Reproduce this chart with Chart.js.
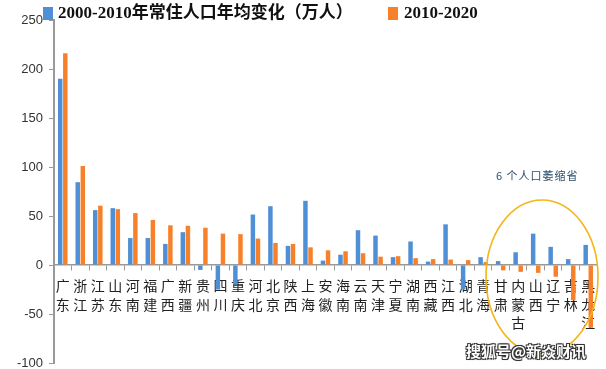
<!DOCTYPE html>
<html>
<head>
<meta charset="utf-8">
<script src="https://cdn.jsdelivr.net/npm/chart.js@4.4.1/dist/chart.umd.min.js"></script>
<style>
  html, body { margin: 0; padding: 0; background: #ffffff; }
  #wrap { position: relative; width: 606px; height: 369px; }
  canvas { display: block; }
  .note { position: absolute; left: 496px; top: 167px; font: 11px "Noto Sans CJK SC", sans-serif; color: #2d4f6c; letter-spacing: 1px; white-space: nowrap; }
  .wm { position: absolute; left: 466px; top: 340px; font: bold 15px "Noto Sans CJK SC", sans-serif; color: #ffffff; white-space: nowrap;
        text-shadow: -1px -1px 0 #333, 1px -1px 0 #333, -1px 1px 0 #333, 1px 1px 0 #333, 0 0 2px #000; }
</style>
</head>
<body>
<div id="wrap">
  <canvas id="c" width="606" height="369"></canvas>
  <div class="note">6 个人口萎缩省</div>
  <div class="wm">搜狐号@新焱财讯</div>
</div>
<script>
const categories = ["广东","浙江","江苏","山东","河南","福建","广西","新疆","贵州","四川","重庆","河北","北京","陕西","上海","安徽","海南","云南","天津","宁夏","湖南","西藏","江西","湖北","青海","甘肃","内蒙古","山西","辽宁","吉林","黑龙江"];
const series2000 = [190, 84.5, 56, 58, 27.5, 27.5, 21.5, 33.5, -5, -25, -20, 51.5, 60, 19.5, 65.5, 4.5, 10.5, 35.5, 30, 8, 24, 3.5, 41.5, -25, 8, 4, 13, 32, 18.5, 6, 20.5];
const series2010 = [216, 101, 60.5, 57, 53, 46, 40.5, 40, 38, 32, 31.5, 27, 22.5, 21.5, 18, 15, 14, 12, 8.5, 9, 7, 6, 5.5, 5, 3, -5.5, -7, -8, -12, -36, -64];
const seriesNames = ["2000-2010年常住人口年均变化（万人）", "2010-2020"];
const yTicks = [250, 200, 150, 100, 50, 0, -50, -100];
const colors = ["#4f8fd6", "#f7802a"];

const legendPlugin = {
  id: 'customLegend',
  afterDraw(chart) {
    const ctx = chart.ctx;
    ctx.save();
    const items = [{x: 43, tx: 58}, {x: 388, tx: 404}];
    chart.data.datasets.forEach((ds, i) => {
      const it = items[i];
      ctx.fillStyle = ds.backgroundColor;
      ctx.fillRect(it.x, 7, 10, 13);
      ctx.fillStyle = '#111';
      ctx.font = 'bold 17px "Liberation Serif", "Noto Sans CJK SC", serif';
      ctx.textBaseline = 'middle';
      ctx.textAlign = 'left';
      ctx.fillText(ds.label, it.tx, 14);
    });
    ctx.beginPath();
    ctx.strokeStyle = '#f5b51a';
    ctx.lineWidth = 1.6;
    ctx.ellipse(542, 277, 56, 77, 0, 0, Math.PI * 2);
    ctx.stroke();
    ctx.restore();
  }
};

function zeroPad(scale) {
  scale.paddingTop = 0; scale.paddingBottom = 0;
  scale.paddingLeft = 0; scale.paddingRight = 0;
}

new Chart(document.getElementById('c'), {
  type: 'bar',
  data: {
    labels: categories.map(s => s.split('')),
    datasets: [
      { label: seriesNames[0], data: series2000, backgroundColor: colors[0], categoryPercentage: 0.58, barPercentage: 0.88 },
      { label: seriesNames[1], data: series2010, backgroundColor: colors[1], categoryPercentage: 0.58, barPercentage: 0.88 }
    ]
  },
  options: {
    responsive: false,
    animation: false,
    layout: { padding: { top: 20, right: 9, bottom: 6, left: 0 } },
    plugins: { legend: { display: false }, tooltip: { enabled: false } },
    scales: {
      x: {
        position: { y: 0 },
        afterFit: zeroPad,
        grid: { drawOnChartArea: false, drawTicks: true, tickLength: 5, color: '#999', offset: true },
        border: { display: true, color: '#999', width: 1.5 },
        ticks: { autoSkip: false, maxRotation: 0, minRotation: 0, padding: 7, color: '#222',
                 font: { family: '"Noto Sans CJK SC", sans-serif', size: 14, lineHeight: 1.3 } }
      },
      y: {
        min: -100, max: 250,
        afterBuildTicks(scale) { scale.ticks = yTicks.map(v => ({ value: v })); },
        afterFit(scale) { scale.width = 54; zeroPad(scale); },
        grid: { drawOnChartArea: false, drawTicks: true, tickLength: 5, color: '#999' },
        border: { display: true, color: '#999', width: 2 },
        ticks: { padding: 6, color: '#333', font: { family: '"Liberation Sans", sans-serif', size: 13 } }
      }
    }
  },
  plugins: [legendPlugin]
});
</script>
</body>
</html>
